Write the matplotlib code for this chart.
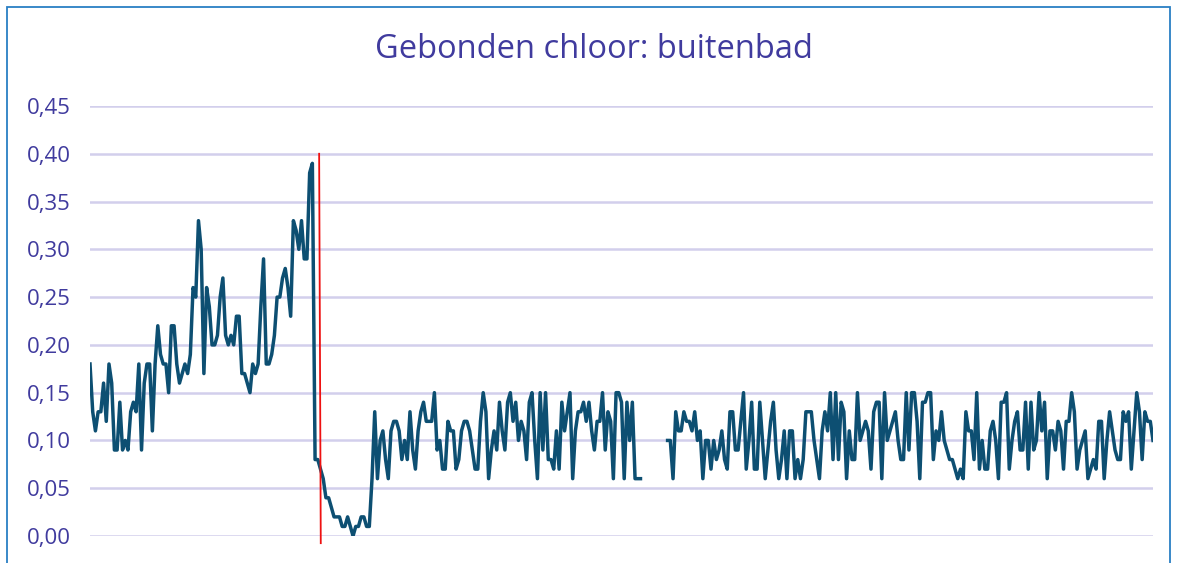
import numpy as np
import matplotlib
matplotlib.use("Agg")
import matplotlib.pyplot as plt
from matplotlib.ticker import FuncFormatter
from matplotlib.patches import Rectangle

# meetwaarden gebonden chloor (mg/l)
deel1 = [0.18, 0.13, 0.11, 0.13, 0.13, 0.16, 0.12, 0.18, 0.16, 0.09,
         0.09, 0.14, 0.09, 0.10, 0.09, 0.13, 0.14, 0.13, 0.18, 0.09,
         0.16, 0.18, 0.18, 0.11, 0.18, 0.22, 0.19, 0.18, 0.18, 0.15,
         0.22, 0.22, 0.18, 0.16, 0.17, 0.18, 0.17, 0.19, 0.26, 0.25,
         0.33, 0.30, 0.17, 0.26, 0.24, 0.20, 0.20, 0.21, 0.25, 0.27,
         0.21, 0.20, 0.21, 0.20, 0.23, 0.23, 0.17, 0.17, 0.16, 0.15,
         0.18, 0.17, 0.18, 0.24, 0.29]
deel2 = [0.18, 0.18, 0.19, 0.21, 0.25, 0.25, 0.27, 0.28, 0.26, 0.23,
         0.33, 0.32, 0.30, 0.33, 0.29, 0.29, 0.38, 0.39, 0.08, 0.08,
         0.07, 0.06, 0.04, 0.04, 0.03, 0.02, 0.02, 0.02, 0.01, 0.01,
         0.02, 0.01, 0.00, 0.01, 0.01, 0.02, 0.02, 0.01, 0.01, 0.06,
         0.13, 0.06, 0.10, 0.11, 0.08, 0.06, 0.11, 0.12, 0.12, 0.11,
         0.08, 0.10, 0.08, 0.13, 0.09, 0.07, 0.11, 0.13, 0.14, 0.12,
         0.12, 0.12, 0.15, 0.09, 0.10]
deel3 = [0.07, 0.07, 0.12, 0.11, 0.11, 0.07, 0.08, 0.11, 0.12, 0.12,
         0.11, 0.09, 0.07, 0.07, 0.12, 0.15, 0.13, 0.06, 0.09, 0.11,
         0.09, 0.14, 0.11, 0.09, 0.14, 0.15, 0.12, 0.14, 0.10, 0.12,
         0.11, 0.08, 0.14, 0.15, 0.10, 0.06, 0.15, 0.09, 0.15, 0.08,
         0.08, 0.07, 0.11, 0.07, 0.14, 0.11, 0.13, 0.15, 0.06, 0.11,
         0.13, 0.13, 0.14, 0.12, 0.14, 0.11, 0.09, 0.12, 0.12, 0.15,
         0.09, 0.13, 0.12, 0.06, 0.15, 0.15, 0.14, 0.06, 0.14, 0.10,
         0.14, 0.06, 0.06, 0.06]
ontbreekt = [np.nan] * 9   # periode zonder metingen
deel4 = [0.10, 0.10, 0.06, 0.13, 0.11, 0.11, 0.13, 0.12, 0.12, 0.11,
         0.13, 0.10, 0.11, 0.06, 0.10, 0.10, 0.07, 0.10, 0.08, 0.09,
         0.11, 0.08, 0.07, 0.13, 0.13, 0.09, 0.09, 0.12, 0.15, 0.07,
         0.10, 0.14, 0.07, 0.07, 0.14, 0.10, 0.06, 0.09, 0.12, 0.14,
         0.09, 0.06, 0.08, 0.11, 0.06, 0.11, 0.11, 0.06, 0.08, 0.06,
         0.08, 0.13, 0.13, 0.13, 0.10, 0.08, 0.06, 0.11, 0.13, 0.11,
         0.15, 0.08, 0.15, 0.08]
deel5 = [0.14, 0.13, 0.06, 0.11, 0.08, 0.08, 0.15, 0.10, 0.11, 0.12,
         0.11, 0.07, 0.13, 0.14, 0.14, 0.06, 0.15, 0.10, 0.11, 0.12,
         0.13, 0.10, 0.08, 0.08, 0.15, 0.09, 0.15, 0.15, 0.12, 0.06,
         0.14, 0.14, 0.15, 0.15, 0.08, 0.11, 0.10, 0.13, 0.10, 0.09,
         0.08, 0.08, 0.07, 0.06, 0.07, 0.06, 0.13, 0.11, 0.11, 0.08,
         0.15, 0.07, 0.10, 0.07, 0.07, 0.11, 0.12, 0.10, 0.06, 0.14,
         0.14]
deel6 = [0.15, 0.07, 0.10, 0.12, 0.13, 0.09, 0.09, 0.14, 0.07, 0.14,
         0.09, 0.10, 0.15, 0.11, 0.14, 0.06, 0.11, 0.11, 0.09, 0.12,
         0.11, 0.07, 0.12, 0.12, 0.15, 0.13, 0.07, 0.09, 0.10, 0.11,
         0.06, 0.07, 0.08, 0.07, 0.12, 0.12, 0.06, 0.10, 0.13, 0.11,
         0.09, 0.08, 0.08, 0.13, 0.12, 0.13, 0.07, 0.11, 0.15, 0.13,
         0.08, 0.13, 0.12, 0.12, 0.10]

chloor = np.array(deel1 + deel2 + deel3 + ontbreekt + deel4 + deel5 + deel6)
dagen = np.arange(len(chloor))

# moment van ingreep (rode lijn)
ingreep_boven = 84.5
ingreep_onder = 85.1

y_ticks = [0.00, 0.05, 0.10, 0.15, 0.20, 0.25, 0.30, 0.35, 0.40, 0.45]
titel = "Gebonden chloor: buitenbad"

tekst_kleur = "#403b9e"
lijn_kleur = "#0d4f72"
raster_kleur = "#d2cfec"

plt.rcParams["font.family"] = ["Open Sans", "DejaVu Sans"]

fig = plt.figure(figsize=(11.77, 5.63), dpi=100)
fig.patches.append(Rectangle((7 / 1177, -0.1), 1163 / 1177, 1.1 - 7 / 563,
                             transform=fig.transFigure, fill=False,
                             edgecolor="#2a7fc4", linewidth=1.3))

ax = fig.add_axes([90 / 1177, 1 - 536 / 563, 1063 / 1177, 430 / 563])
ax.plot(dagen, chloor, color=lijn_kleur, linewidth=2.5, solid_joinstyle="round")
ax.plot([ingreep_boven, ingreep_onder], [0.40, -0.0075], color="#ee1111",
        linewidth=1.3, clip_on=False)

ax.set_xlim(0, len(chloor) - 1)
ax.set_ylim(0, 0.45)
ax.set_yticks(y_ticks)
ax.yaxis.set_major_formatter(FuncFormatter(lambda v, p: f"{v:.2f}".replace(".", ",")))
ax.set_xticks([])
ax.grid(axis="y", color=raster_kleur, linewidth=1.8)
ax.set_axisbelow(True)
for s in ax.spines.values():
    s.set_visible(False)
ax.tick_params(axis="y", length=0, pad=14, labelsize=16, labelcolor=tekst_kleur)

fig.text(0.505, 1 - 50 / 563, titel, ha="center", va="center",
         fontsize=23.5, color=tekst_kleur)

fig.savefig("out.png", dpi=100)
